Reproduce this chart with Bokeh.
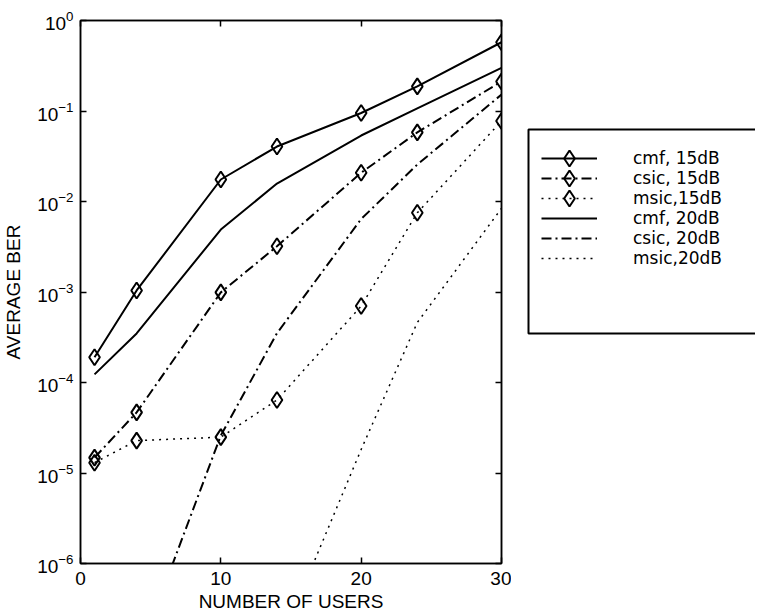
from bokeh.plotting import figure
from bokeh.layouts import row
from bokeh.models import (LogAxis, LinearAxis, FixedTicker, Legend, LegendItem,
                          CustomJSTickFormatter)
from bokeh.embed import file_html
from bokeh.resources import INLINE

nan = float("nan")

# Number of users
users = [1, 4, 10, 14, 20, 24, 30]

# Average BER, 15 dB
cmf_15 = [1.9e-4, 1.04e-3, 1.75e-2, 4.05e-2, 9.5e-2, 1.87e-1, 5.75e-1]
csic_15 = [1.48e-5, 4.67e-5, 9.9e-4, 3.2e-3, 2.08e-2, 5.8e-2, 2.12e-1]
msic_15 = [1.30e-5, 2.28e-5, 2.49e-5, 6.4e-5, 7.0e-4, 7.5e-3, 7.75e-2]

# Average BER, 20 dB
cmf_20 = [1.23e-4, 3.48e-4, 4.9e-3, 1.58e-2, 5.36e-2, 1.07e-1, 3.0e-1]
csic_20 = [nan, 8.6e-8, 2.6e-5, 3.5e-4, 6.4e-3, 2.56e-2, 1.52e-1]
msic_20 = [nan, nan, nan, 1.1e-7, 1.82e-5, 4.6e-4, 8.4e-3]

labels = ["cmf, 15dB", "csic, 15dB", "msic,15dB", "cmf, 20dB", "csic, 20dB", "msic,20dB"]
x_ticks = [0, 10, 20, 30]

FONT = "Liberation Sans"
LEG_FONT = "DejaVu Sans"
FW, FH = 421, 543            # plot frame
TOP, LEFT, RIGHT, BOTTOM = 20, 76, 10, 53
QW = 244                     # legend canvas width

p = figure(frame_width=FW, frame_height=FH, x_range=(0, 30), y_range=(1e-6, 1),
           y_axis_type="log", output_backend="svg", toolbar_location=None,
           min_border_left=LEFT, min_border_right=RIGHT, min_border_top=TOP,
           min_border_bottom=BOTTOM)
p.grid.visible = False
p.outline_line_color = "black"
p.outline_line_width = 1.5
p.outline_line_alpha = 1.0
p.background_fill_color = "white"
p.border_fill_color = "white"

def style_axis(ax, size="19px"):
    ax.major_tick_in = 6
    ax.major_tick_out = 0
    ax.minor_tick_line_color = None
    ax.axis_line_color = "black"
    ax.axis_line_width = 1.5
    ax.major_tick_line_color = "black"
    ax.major_tick_line_width = 1.5
    ax.major_label_text_font = FONT
    ax.major_label_text_font_size = size
    ax.major_label_text_color = "black"
    ax.axis_label_text_font = FONT
    ax.axis_label_text_font_size = size
    ax.axis_label_text_font_style = "normal"
    ax.axis_label_text_color = "black"

style_axis(p.xaxis[0], "19px")
style_axis(p.yaxis[0], "19px")
p.xaxis.ticker = FixedTicker(ticks=x_ticks)
p.xaxis.axis_label = "NUMBER OF USERS"
p.xaxis.major_label_text_line_height = 1.0
p.xaxis.axis_label_text_line_height = 1.0
p.xaxis.major_label_standoff = 8
p.xaxis.axis_label_standoff = 3
p.yaxis.axis_label = "AVERAGE BER"
p.yaxis.major_label_standoff = 3
p.yaxis.axis_label_standoff = 10

blank_fmt = CustomJSTickFormatter(code="return '';")

top = LinearAxis(ticker=FixedTicker(ticks=x_ticks), formatter=blank_fmt)
style_axis(top)
top.major_label_standoff = 0
p.add_layout(top, "above")

right = LogAxis(formatter=blank_fmt)
style_axis(right)
right.major_label_standoff = 0
p.add_layout(right, "right")

DASHDOT = "10 4 2 4"
DOT = "2 5"
MSIZE = 16

def draw(fig, xs, ys, dash=None, width=2, marker=False):
    kw = dict(line_color="black", line_width=width)
    if dash:
        kw["line_dash"] = dash
    rs = [fig.line(xs, ys, **kw)]
    if marker:
        rs.append(fig.scatter(xs, ys, marker="diamond", size=MSIZE, line_color="black",
                              line_width=2, fill_alpha=0))
    return rs

draw(p, users, cmf_15, marker=True)
draw(p, users, csic_15, DASHDOT, marker=True)
draw(p, users, msic_15, DOT, 1.5, marker=True)
draw(p, users, cmf_20)
draw(p, users, csic_20, DASHDOT)
draw(p, users, msic_20, DOT, 1.5)

# ---- legend panel: its frame is aligned with the plot frame, ranges in pixels ----
q = figure(width=QW, height=TOP + FH + BOTTOM, x_range=(0, QW), y_range=(0, FH),
           output_backend="svg", toolbar_location=None,
           x_axis_location=None, y_axis_location=None,
           min_border=0, min_border_left=0, min_border_right=0,
           min_border_top=TOP, min_border_bottom=BOTTOM)
q.grid.visible = False
q.outline_line_color = None
q.border_fill_color = "white"
q.background_fill_color = "white"

# legend box (left, top and bottom sides; the right side lies past the window edge)
BOX_L, BOX_T, BOX_B = 17, FH - 109, FH - 313
q.line([QW + 20, BOX_L, BOX_L, QW + 20], [BOX_T, BOX_T, BOX_B, BOX_B],
       line_color="black", line_width=2)

PITCH = 20
LEG_X = 30
LEG_Y = FH - 248            # legend bottom, from frame bottom
GLYPH_W = 56

styles = [(None, 2), (DASHDOT, 2), (DOT, 1.5), (None, 2), (DASHDOT, 2), (DOT, 1.5)]
offscreen = [-50, -40]
items = []
for lab, (dash, w) in zip(labels, styles):
    items.append(LegendItem(label=lab, renderers=draw(q, offscreen, offscreen, dash, w)))

legend = Legend(items=items, location=(LEG_X, LEG_Y),
                border_line_color=None, background_fill_alpha=0,
                label_text_font=LEG_FONT, label_text_font_size="17px",
                label_text_line_height=1.0, label_text_color="black",
                glyph_width=GLYPH_W, glyph_height=PITCH, label_height=PITCH, label_width=100,
                label_standoff=36, spacing=0, padding=0, margin=0)
q.add_layout(legend, "center")

# diamond samples for the three marked series, centred on their legend glyphs
mark_x = [LEG_X + GLYPH_W / 2] * 3
mark_y = [LEG_Y + (len(labels) - i - 0.5) * PITCH for i in range(3)]
q.scatter(mark_x, mark_y, marker="diamond", size=MSIZE, line_color="black",
          line_width=2, fill_color="white", fill_alpha=1)

layout = row(p, q)
open("out.html", "w").write(file_html(layout, INLINE))
